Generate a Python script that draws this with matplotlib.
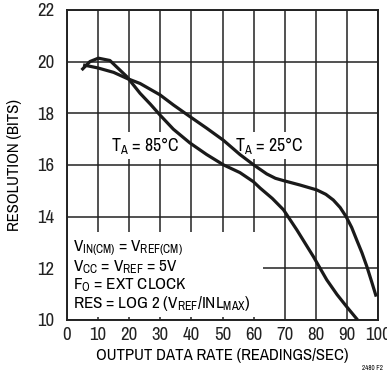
#Resolution vs output data rate

import matplotlib
matplotlib.use('Agg')
import matplotlib.pyplot as plt
from matplotlib import font_manager
from matplotlib.patches import Rectangle

# data
rate_85 = [4.7, 7.4, 10.1, 13.8, 19.2, 23.5, 26.8, 29.9, 34.2, 39.5, 44.9, 50.3, 55.6, 59.9,
           62.1, 66.0, 69.6, 73.9, 79.2, 83.5, 86.8, 89.9, 93.4]
res_85 = [19.67, 20.0, 20.13, 20.04, 19.42, 18.77, 18.35, 17.93, 17.38, 16.85, 16.4, 16.0, 15.7, 15.35,
          15.1, 14.7, 14.26, 13.48, 12.45, 11.55, 10.98, 10.51, 10.0]

rate_25 = [5.2, 10.0, 15.0, 19.2, 23.5, 29.9, 34.2, 39.5, 44.9, 50.3, 55.6, 60.0, 64.2, 67.0,
           69.6, 74.9, 80.3, 83.2, 85.6, 87.8, 89.7, 91.5, 93.1, 94.8, 96.4, 98.0, 99.4]
res_25 = [19.87, 19.75, 19.58, 19.35, 19.15, 18.71, 18.32, 17.87, 17.42, 16.95, 16.4, 16.0, 15.65, 15.48,
          15.39, 15.22, 15.03, 14.86, 14.64, 14.35, 14.0, 13.58, 13.1, 12.6, 12.06, 11.45, 10.9]

x_ticks = [0, 10, 20, 30, 40, 50, 60, 70, 80, 90, 100]
y_ticks = [10, 12, 14, 16, 18, 20, 22]

notes = [r'$\mathregular{V_{IN(CM)}}$ = $\mathregular{V_{REF(CM)}}$',
         r'$\mathregular{V_{CC}}$ = $\mathregular{V_{REF}}$ = 5V',
         r'$\mathregular{F_{O}}$ = EXT CLOCK',
         r'RES = LOG 2 ($\mathregular{V_{REF}}$/$\mathregular{INL_{MAX}}$)']

# a narrow sans looks closest; fall back to a smaller regular one
names = sorted(set(f.name for f in font_manager.fontManager.ttflist))
narrow = [n for n in names if 'Narrow' in n or 'Condensed' in n]
if narrow:
    fam = narrow[0]
    fs = 12
else:
    fam = 'Liberation Sans'
    fs = 10.5
plt.rcParams['font.family'] = [fam, 'DejaVu Sans']
plt.rcParams['mathtext.fontset'] = 'custom'
plt.rcParams['mathtext.rm'] = fam
plt.rcParams['mathtext.it'] = fam

fig = plt.figure(figsize=(3.87, 3.79), dpi=100)
ax = fig.add_axes([0.173, 0.156, 0.804, 0.818])

ax.set_xlim(0, 100)
ax.set_ylim(10, 22)
ax.set_xticks(x_ticks)
ax.set_yticks(y_ticks)
ax.tick_params(length=0, labelsize=fs + 1.5, colors='#222222')
ax.tick_params(axis='y', pad=9)
ax.tick_params(axis='x', pad=5)
ax.grid(True, color='#222222', linewidth=1.1)
ax.set_axisbelow(True)
for s in ax.spines.values():
    s.set_linewidth(1.4)
    s.set_color('#222222')

# white area behind the notes hides the grid
ax.add_patch(Rectangle((0.4, 10.12), 62.5, 3.3, facecolor='white', edgecolor='none', zorder=1))

ax.plot(rate_85, res_85, color='#1a1a1a', linewidth=2.3, solid_capstyle='butt', zorder=3)
ax.plot(rate_25, res_25, color='#1a1a1a', linewidth=2.3, solid_capstyle='butt', zorder=3)

ax.text(14, 16.75, r'$\mathregular{T_A}$ = 85°C', fontsize=fs + 0.8, va='center', zorder=2,
        bbox=dict(facecolor='white', edgecolor='none', pad=2))
ax.text(54, 16.75, r'$\mathregular{T_A}$ = 25°C', fontsize=fs + 0.8, va='center', zorder=2,
        bbox=dict(facecolor='white', edgecolor='none', pad=2))

for i, line in enumerate(notes):
    ax.text(2, 12.76 - i * 0.71, line, fontsize=fs + 0.3, va='center', zorder=2)

ax.set_xlabel('OUTPUT DATA RATE (READINGS/SEC)', fontsize=fs, labelpad=4)
ax.set_ylabel('RESOLUTION (BITS)', fontsize=fs, labelpad=11)
fig.text(0.99, 0.02, '2480 F2', fontsize=5, ha='right', va='bottom')

fig.savefig('out.png', dpi=100)
